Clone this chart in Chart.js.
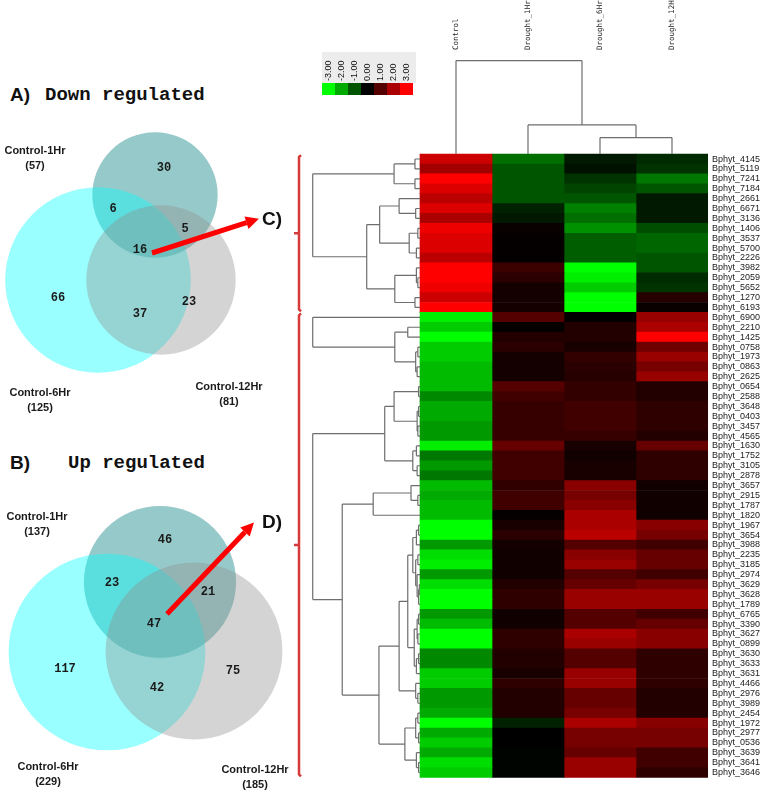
<!DOCTYPE html>
<html>
<head>
<meta charset="utf-8">
<script src="https://cdn.jsdelivr.net/npm/chart.js@4.4.0/dist/chart.umd.min.js"></script>
<style>
  html, body { margin: 0; padding: 0; background: #fff; }
  body { width: 760px; height: 793px; position: relative; overflow: hidden; }
  canvas, .lbl { position: absolute; }
  .lbl { line-height: 22px; color: #111; white-space: nowrap; font-weight: bold; font-size: 19px; }
  .sans { font-family: 'Liberation Sans', Arial, sans-serif; }
  .mono { font-family: 'Liberation Mono', 'Courier New', monospace; }
</style>
</head>
<body>
<div class="lbl sans" style="left:10px;top:84px">A)</div>
<div class="lbl mono" style="left:45px;top:84px">Down regulated</div>
<div class="lbl sans" style="left:10px;top:452px">B)</div>
<div class="lbl mono" style="left:68px;top:452px">Up regulated</div>

<canvas id="vennA" width="300" height="310" style="left:0;top:110px"></canvas>
<canvas id="vennB" width="300" height="313" style="left:0;top:480px"></canvas>
<canvas id="heat" width="470" height="793" style="left:290px;top:0"></canvas>

<script>
// ---- Venn data ----
var setNames = ['Control-1Hr', 'Control-6Hr', 'Control-12Hr'];
// regions: only 1Hr, only 6Hr, only 12Hr, 1Hr&6Hr, 1Hr&12Hr, 6Hr&12Hr, all three
var regionSets = [[0], [1], [2], [0, 1], [0, 2], [1, 2], [0, 1, 2]];
var downCounts = [30, 66, 23, 6, 5, 37, 16];
var upCounts = [46, 117, 75, 23, 21, 42, 47];

// ---- heatmap data ----
var colLabels = ['Control', 'Drought_1Hr', 'Drought_6Hr', 'Drought_12H'];
var rowLabels = ['Bphyt_4145', 'Bphyt_5119', 'Bphyt_7241', 'Bphyt_7184', 'Bphyt_2661', 'Bphyt_6671', 'Bphyt_3136',
    'Bphyt_1406', 'Bphyt_3537', 'Bphyt_5700', 'Bphyt_2226', 'Bphyt_3982', 'Bphyt_2059', 'Bphyt_5652', 'Bphyt_1270',
    'Bphyt_6193', 'Bphyt_6900', 'Bphyt_2210', 'Bphyt_1425', 'Bphyt_0758', 'Bphyt_1973', 'Bphyt_0863', 'Bphyt_2625',
    'Bphyt_0654', 'Bphyt_2588', 'Bphyt_3648', 'Bphyt_0403', 'Bphyt_3457', 'Bphyt_4565', 'Bphyt_1630', 'Bphyt_1752',
    'Bphyt_3105', 'Bphyt_2878', 'Bphyt_3657', 'Bphyt_2915', 'Bphyt_1787', 'Bphyt_1820', 'Bphyt_1967', 'Bphyt_3654',
    'Bphyt_3988', 'Bphyt_2235', 'Bphyt_3185', 'Bphyt_2974', 'Bphyt_3629', 'Bphyt_3628', 'Bphyt_1789', 'Bphyt_6765',
    'Bphyt_3390', 'Bphyt_3627', 'Bphyt_0899', 'Bphyt_3630', 'Bphyt_3633', 'Bphyt_3631', 'Bphyt_4466', 'Bphyt_2976',
    'Bphyt_3989', 'Bphyt_2454', 'Bphyt_1972', 'Bphyt_2977', 'Bphyt_0536', 'Bphyt_3639', 'Bphyt_3641', 'Bphyt_3646'];
var controlValues = [2.4, 1.9, 3.0, 2.6, 2.2, 2.6, 2.0, 2.8, 2.6, 2.6, 2.2, 3.0, 3.0, 2.8, 2.4, 3.0,
    -2.8, -2.4, -3.0, -2.4, -2.4, -2.2, -2.2, -2.2, -1.6, -2.0, -2.0, -1.8, -1.8, -2.8, -1.4, -1.8, -1.4, -2.2,
    -2.0, -2.2, -2.2, -3.0, -3.0, -1.8, -2.6, -2.8, -1.8, -2.6, -3.0, -3.0, -1.8, -2.2, -3.0, -3.0, -1.6, -1.6,
    -2.4, -2.4, -1.8, -1.8, -2.0, -3.0, -2.0, -2.4, -2.0, -2.6, -2.4];
var drought1Values = [-1.3, -1.0, -1.0, -1.0, -1.0, -0.4, -0.3, 0.1, 0.05, 0.05, 0.05, 0.7, 0.5, 0.25, 0.25, 0.25,
    1.0, 0.05, 0.4, 0.5, 0.25, 0.25, 0.25, 1.0, 0.75, 0.65, 0.65, 0.65, 0.65, 1.2, 0.75, 0.75, 0.75, 0.55,
    0.75, 0.75, 0.05, 0.3, 0.5, 0.25, 0.2, 0.2, 0.2, 0.4, 0.55, 0.55, 0.2, 0.2, 0.55, 0.55, 0.4, 0.4,
    0.3, 0.55, 0.4, 0.4, 0.4, -0.4, 0, 0, -0.05, -0.05, -0.05];
var drought6Values = [-0.3, -0.2, -0.6, -0.8, -1.0, -1.5, -1.3, -1.7, -1.1, -1.1, -1.1, -3.0, -2.8, -2.4, -3.0, -3.0,
    0, 0.4, 0.4, 0.3, 0.6, 0.5, 0.45, 0.6, 0.6, 0.75, 0.75, 0.75, 0.65, 0.3, 0.2, 0.3, 0.3, 1.6,
    1.4, 1.6, 2.0, 2.0, 2.2, 1.0, 1.6, 1.8, 1.0, 1.2, 1.8, 1.8, 1.0, 1.0, 2.0, 1.8, 1.0, 1.0,
    1.8, 1.8, 1.2, 1.2, 1.4, 2.0, 1.4, 1.4, 1.2, 1.8, 1.8];
var drought12Values = [-0.5, -0.6, -1.4, -1.0, -0.3, -0.3, -0.3, -0.9, -1.2, -1.2, -1.0, -1.0, -0.5, -0.6, 0.45, 0.1,
    1.8, 2.0, 3.0, 1.3, 1.8, 1.4, 1.8, 0.4, 0.4, 0.55, 0.55, 0.55, 0.4, 1.2, 0.55, 0.55, 0.55, 0.2,
    0.2, 0.2, 0.2, 1.6, 1.4, 0.75, 1.2, 1.2, 0.75, 1.4, 1.8, 1.8, 0.75, 1.2, 1.6, 1.6, 0.55, 0.55,
    0.55, 0.55, 0.4, 0.4, 0.4, 1.6, 1.4, 1.4, 0.75, 0.75, 0.55];
var legendValues = [-3, -2, -1, 0, 1, 2, 3];
var groupSizes = [16, 47];   // down-regulated rows, then up-regulated rows

// dendrograms: [merge height, left, right], leaves are row / column indexes
var colTree = [9.45, 0, [2.95, 1, [1.67, 2, 3]]];
var rowTrees = [
    [1.49,
        [0.36, [0.07, 0, 1], [0.07, 2, 3]],
        [0.74,
            [0.56, [0.29, 4, [0.06, 5, 6]], [0.15, [0.03, 7, 8], [0.05, 9, 10]]],
            [0.35, [0.05, 11, [0.03, 12, 13]], [0.07, 14, 15]]]],
    [1.49, 16, [0.35, [0.17, 17, 18], [0.06, [0.03, 19, 20], [0.04, 21, 22]]]],
    [1.49,
        [0.49,
            [0.36, [0.02, 23, 24], [0.04, [0.02, 25, 26], [0.03, 27, 28]]],
            [0.1, [0.05, 29, 30], [0.04, 31, 32]]],
        [1.08,
            [0.65, [0.125, 33, [0.03, 34, 35]], 36],
            [0.57,
                [0.29,
                    [0.17,
                        [0.1, [0.05, [0.02, 37, 38], 39], [0.06, [0.03, 40, 41], [0.04, 42, [0.02, [0.01, 43, 44], 45]]]],
                        [0.08, [0.04, [0.02, 46, 47], [0.03, 48, 49]], [0.05, [0.02, 50, 51], 52]]],
                    [0.06, 53, [0.03, 54, 55]]],
                [0.21, [0.06, [0.03, 56, 57], [0.02, 58, 59]], [0.05, 60, [0.02, 61, 62]]]]]]
];

Chart.defaults.font.family = "'Liberation Sans', Arial, sans-serif";

// ---------- Venn diagrams ----------
var vennColors = ['rgba(0,124,124,0.41)', 'rgba(0,255,255,0.4)', 'rgba(145,145,145,0.39)'];

function setTotals(counts) {
    return setNames.map(function (name, s) {
        return counts.reduce(function (sum, c, r) {
            return regionSets[r].indexOf(s) >= 0 ? sum + c : sum;
        }, 0);
    });
}

function vennChart(id, counts, lay) {
    var totals = setTotals(counts);
    var canvas = document.getElementById(id);

    var textPlugin = {
        id: 'vennText',
        afterDatasetsDraw: function (chart) {
            var ctx = chart.ctx, xs = chart.scales.x, ys = chart.scales.y;
            ctx.save();
            ctx.fillStyle = '#1a1a1a';
            ctx.textAlign = 'center';
            ctx.textBaseline = 'middle';
            ctx.font = "bold 12px 'Liberation Mono'";
            counts.forEach(function (c, r) {
                ctx.fillText(c, xs.getPixelForValue(lay.regionPos[r][0]), ys.getPixelForValue(lay.regionPos[r][1]));
            });
            ctx.font = "bold 11px 'Liberation Sans'";
            setNames.forEach(function (name, s) {
                var x = xs.getPixelForValue(lay.setLabelPos[s][0]);
                var y = ys.getPixelForValue(lay.setLabelPos[s][1]);
                ctx.fillText(name, x, y);
                ctx.fillText('(' + totals[s] + ')', x, y + 15);
            });

            // arrow head on the end of the arrow line
            var pts = chart.getDatasetMeta(1).data;
            var p0 = pts[0], p1 = pts[1];
            var a = Math.atan2(p1.y - p0.y, p1.x - p0.x);
            var len = 13, half = 6.5;
            ctx.fillStyle = '#ff0000';
            ctx.beginPath();
            ctx.moveTo(p1.x + Math.cos(a) * len, p1.y + Math.sin(a) * len);
            ctx.lineTo(p1.x - Math.sin(a) * half, p1.y + Math.cos(a) * half);
            ctx.lineTo(p1.x + Math.sin(a) * half, p1.y - Math.cos(a) * half);
            ctx.closePath();
            ctx.fill();

            ctx.fillStyle = '#111';
            ctx.textAlign = 'left';
            ctx.font = "bold 19px 'Liberation Sans'";
            ctx.fillText(lay.letter, xs.getPixelForValue(lay.letterPos[0]), ys.getPixelForValue(lay.letterPos[1]));
            ctx.restore();
        }
    };

    return new Chart(canvas, {
        type: 'scatter',
        data: {
            datasets: [{
                data: lay.centres.map(function (c) { return {x: c[0], y: c[1]}; }),
                backgroundColor: vennColors,
                borderWidth: 0,
                clip: false,
                order: 2,
                pointRadius: function (c) {
                    var xs = c.chart.scales.x;
                    if (!xs) return 0;
                    return xs.getPixelForValue(lay.k * Math.sqrt(totals[c.dataIndex])) - xs.getPixelForValue(0);
                }
            }, {
                data: lay.arrow.map(function (p) { return {x: p[0], y: p[1]}; }),
                showLine: true,
                borderColor: '#ff0000',
                borderWidth: 5,
                borderCapStyle: 'butt',
                pointRadius: 0,
                clip: false,
                order: 1
            }]
        },
        options: {
            responsive: false,
            animation: false,
            events: [],
            layout: {padding: 0},
            plugins: {legend: {display: false}, tooltip: {enabled: false}},
            scales: {
                x: {type: 'linear', min: 0, max: canvas.width, display: false},
                y: {type: 'linear', min: 0, max: canvas.height, reverse: true, display: false}
            }
        },
        plugins: [textPlugin]
    });
}

vennChart('vennA', downCounts, {
    k: 8.3,
    centres: [[155, 85], [98, 170], [161, 170]],
    regionPos: [[164, 58], [58, 188], [189, 192], [113, 99], [185, 119], [140, 204], [140, 140]],
    setLabelPos: [[35, 41], [40, 283], [229, 277]],
    arrow: [[152, 143], [246.5, 112.7]],
    letter: 'C)',
    letterPos: [262, 110]
});

vennChart('vennB', upCounts, {
    k: 6.5,
    centres: [[160, 102], [107, 172], [194, 171]],
    regionPos: [[165, 60], [65, 189], [233, 191], [112, 103], [208, 112], [157, 208], [154, 144]],
    setLabelPos: [[37, 37], [48, 287], [255, 290]],
    arrow: [[167, 134], [245, 52]],
    letter: 'D)',
    letterPos: [262, 43]
});

// ---------- heatmap ----------
function heatColor(v) {
    var c = Math.round(255 * Math.min(1, Math.abs(v) / 3));
    return v >= 0 ? 'rgb(' + c + ',0,0)' : 'rgb(0,' + c + ',0)';
}

var colValues = [controlValues, drought1Values, drought6Values, drought12Values];

function drawRowTree(ctx, node, xs, ys) {
    if (typeof node === 'number') return {y: node, h: 0};
    var a = drawRowTree(ctx, node[1], xs, ys);
    var b = drawRowTree(ctx, node[2], xs, ys);
    var x = xs.getPixelForValue(-node[0]);
    var ya = ys.getPixelForValue(a.y), yb = ys.getPixelForValue(b.y);
    ctx.moveTo(x, ya); ctx.lineTo(x, yb);
    ctx.moveTo(x, ya); ctx.lineTo(xs.getPixelForValue(-a.h), ya);
    ctx.moveTo(x, yb); ctx.lineTo(xs.getPixelForValue(-b.h), yb);
    return {y: (a.y + b.y) / 2, h: node[0]};
}

function drawColTree(ctx, node, xs, ys) {
    if (typeof node === 'number') return {x: node + 0.5, h: 0};
    var a = drawColTree(ctx, node[1], xs, ys);
    var b = drawColTree(ctx, node[2], xs, ys);
    var y = ys.getPixelForValue(-0.5 - node[0]);
    var xa = xs.getPixelForValue(a.x), xb = xs.getPixelForValue(b.x);
    ctx.moveTo(xa, y); ctx.lineTo(xb, y);
    ctx.moveTo(xa, y); ctx.lineTo(xa, ys.getPixelForValue(-0.5 - a.h));
    ctx.moveTo(xb, y); ctx.lineTo(xb, ys.getPixelForValue(-0.5 - b.h));
    return {x: (a.x + b.x) / 2, h: node[0]};
}

var heatDecor = {
    id: 'heatDecor',
    afterDatasetsDraw: function (chart) {
        var ctx = chart.ctx, xs = chart.scales.x, ys = chart.scales.y;
        ctx.save();

        // dendrograms
        ctx.strokeStyle = '#6e6e6e';
        ctx.lineWidth = 1.2;
        ctx.beginPath();
        rowTrees.forEach(function (t) { drawRowTree(ctx, t, xs, ys); });
        drawColTree(ctx, colTree, xs, ys);
        ctx.stroke();

        // column names
        ctx.fillStyle = '#222';
        ctx.font = "7.5px 'DejaVu Sans Mono'";
        ctx.textAlign = 'left';
        ctx.textBaseline = 'middle';
        colLabels.forEach(function (name, j) {
            ctx.save();
            ctx.translate(xs.getPixelForValue(j + 0.5), 50);
            ctx.rotate(-Math.PI / 2);
            ctx.fillText(name, 0, 0);
            ctx.restore();
        });

        // colour key
        var lx = 32, sw = 13;
        ctx.fillStyle = '#ececec';
        ctx.fillRect(lx, 52, sw * legendValues.length + 3, 31);
        ctx.font = "9px 'Liberation Sans'";
        legendValues.forEach(function (v, i) {
            ctx.fillStyle = heatColor(v);
            ctx.fillRect(lx + i * sw, 83, sw, 12);
            ctx.fillStyle = '#111';
            ctx.save();
            ctx.translate(lx + i * sw + sw / 2, 81);
            ctx.rotate(-Math.PI / 2);
            ctx.fillText(v.toFixed(2), 0, 0);
            ctx.restore();
        });

        // red group brackets
        ctx.strokeStyle = '#d63a3a';
        ctx.lineWidth = 2.5;
        var start = 0, bx = 9;
        groupSizes.forEach(function (n) {
            var y0 = ys.getPixelForValue(start - 0.5) + 1;
            var y1 = ys.getPixelForValue(start + n - 0.5) - 1;
            var ym = (y0 + y1) / 2;
            ctx.beginPath();
            ctx.moveTo(bx + 2, y0); ctx.lineTo(bx, y0 + 2); ctx.lineTo(bx, y1 - 2); ctx.lineTo(bx + 2, y1);
            ctx.moveTo(bx, ym); ctx.lineTo(bx - 5, ym);
            ctx.stroke();
            start += n;
        });
        ctx.restore();
    }
};

new Chart(document.getElementById('heat'), {
    type: 'bar',
    data: {
        datasets: colValues.map(function (vals, j) {
            return {
                label: colLabels[j],
                data: vals.map(function (v, i) { return {x: [j, j + 1], y: i}; }),
                backgroundColor: vals.map(heatColor),
                borderWidth: 0,
                grouped: false,
                barPercentage: 1,
                categoryPercentage: 1
            };
        })
    },
    options: {
        indexAxis: 'y',
        responsive: false,
        animation: false,
        events: [],
        layout: {padding: {left: 22, top: 6, bottom: 5, right: 0}},
        plugins: {legend: {display: false}, tooltip: {enabled: false}},
        scales: {
            x: {type: 'linear', min: -1.5, max: 4, display: false},
            y: {
                type: 'linear',
                min: -14.5,
                max: 62.5,
                reverse: true,
                position: 'right',
                grid: {display: false, drawTicks: false},
                border: {display: false},
                afterBuildTicks: function (axis) {
                    axis.ticks = rowLabels.map(function (l, i) { return {value: i}; });
                },
                afterFit: function (axis) { axis.width = 52; },
                ticks: {
                    autoSkip: false,
                    padding: 4,
                    color: '#222',
                    font: {size: 9},
                    callback: function (v) { return rowLabels[v]; }
                }
            }
        }
    },
    plugins: [heatDecor]
});
</script>
</body>
</html>
